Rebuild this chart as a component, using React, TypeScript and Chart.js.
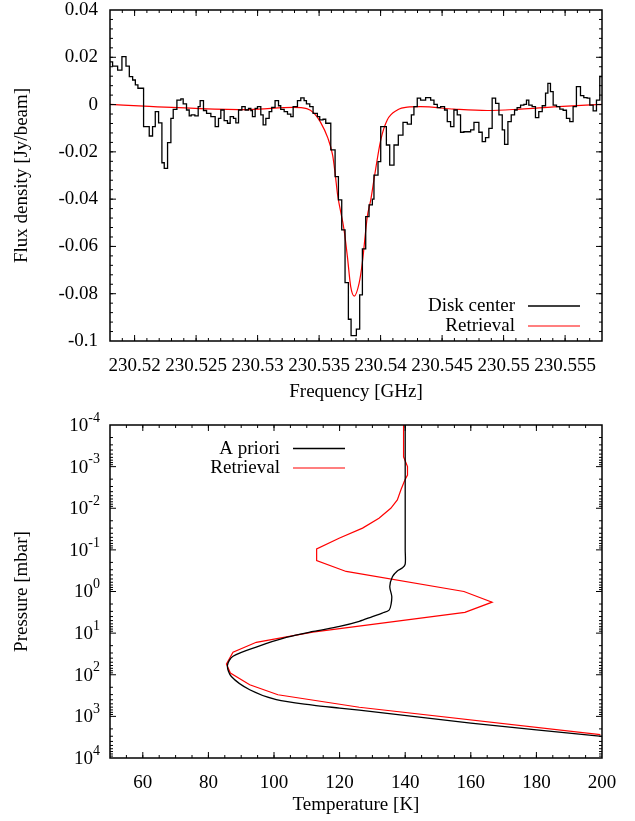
import React, { useEffect, useRef } from 'react';
import { Chart, registerables } from 'chart.js';
Chart.register(...registerables);

const FAM = '"Liberation Serif", "Times New Roman", serif';
const FONT = { family: FAM, size: 19 };

// ---------- Top panel: spectrum ----------
// left edge of each spectral step [GHz]
const diskEdges = [
  230.51800, 230.51821, 230.51862, 230.51897, 230.51930, 230.51957, 230.51984, 230.52006, 230.52027, 230.52073,
  230.52119, 230.52146, 230.52168, 230.52195, 230.52222, 230.52241, 230.52268, 230.52295, 230.52314, 230.52344,
  230.52376, 230.52395, 230.52422, 230.52444, 230.52460, 230.52490, 230.52517, 230.52533, 230.52560, 230.52585,
  230.52620, 230.52655, 230.52682, 230.52701, 230.52728, 230.52755, 230.52777, 230.52804, 230.52823, 230.52845,
  230.52872, 230.52899, 230.52926, 230.52945, 230.52958, 230.52980, 230.52999, 230.53026, 230.53045, 230.53067,
  230.53094, 230.53115, 230.53142, 230.53170, 230.53188, 230.53216, 230.53243, 230.53270, 230.53289, 230.53324,
  230.53351, 230.53378, 230.53397, 230.53424, 230.53451, 230.53486, 230.53505, 230.53532, 230.53554, 230.53595,
  230.53630, 230.53657, 230.53684, 230.53711, 230.53738, 230.53760, 230.53803, 230.53830, 230.53852, 230.53879,
  230.53906, 230.53933, 230.53946, 230.53979, 230.54001, 230.54047, 230.54074, 230.54109, 230.54144, 230.54182,
  230.54217, 230.54250, 230.54271, 230.54298, 230.54325, 230.54366, 230.54407, 230.54434, 230.54461, 230.54488,
  230.54520, 230.54542, 230.54569, 230.54596, 230.54623, 230.54650, 230.54677, 230.54732, 230.54759, 230.54799,
  230.54826, 230.54853, 230.54880, 230.54907, 230.54935, 230.54962, 230.54989, 230.55008, 230.55035, 230.55062,
  230.55089, 230.55110, 230.55138, 230.55165, 230.55186, 230.55205, 230.55232, 230.55259, 230.55286, 230.55314,
  230.55341, 230.55360, 230.55381, 230.55403, 230.55430, 230.55457, 230.55484, 230.55511, 230.55538, 230.55565,
  230.55592, 230.55625, 230.55652, 230.55679, 230.55701, 230.55728, 230.55755, 230.55782,
];
// flux density of each step [Jy/beam]
const diskFlux = [
  0.0181, 0.0163, 0.0146, 0.0203, 0.0163, 0.0118, 0.0104, 0.0083, 0.0069, -0.0093,
  -0.0133, -0.0093, -0.0030, -0.0077, -0.0246, -0.0270, -0.0161, -0.0058, -0.0020, 0.0019,
  0.0024, 0.0003, -0.0023, -0.0048, -0.0044, -0.0048, -0.0009, 0.0017, -0.0025, -0.0037,
  -0.0051, -0.0093, -0.0058, -0.0023, -0.0068, -0.0079, -0.0051, -0.0058, -0.0077, -0.0023,
  -0.0009, -0.0023, -0.0016, -0.0025, -0.0051, -0.0016, -0.0009, -0.0044, -0.0086, -0.0058,
  -0.0030, -0.0012, 0.0017, -0.0005, -0.0020, -0.0030, -0.0040, -0.0051, -0.0009, 0.0017,
  0.0028, 0.0017, 0.0003, -0.0009, -0.0037, -0.0051, -0.0065, -0.0062, -0.0079, -0.0192,
  -0.0305, -0.0403, -0.0530, -0.0753, -0.0908, -0.0977, -0.0950, -0.0805, -0.0610, -0.0474,
  -0.0424, -0.0400, -0.0298, -0.0241, -0.0093, -0.0171, -0.0256, -0.0171, -0.0129, -0.0075,
  -0.0083, -0.0044, -0.0009, 0.0027, 0.0019, 0.0029, 0.0019, 0.0001, -0.0013, -0.0009,
  -0.0023, -0.0072, -0.0093, -0.0023, -0.0044, -0.0117, -0.0115, -0.0107, -0.0075, -0.0117,
  -0.0157, -0.0140, -0.0101, 0.0027, 0.0005, -0.0044, -0.0107, -0.0168, -0.0072, -0.0044,
  -0.0023, -0.0013, -0.0002, 0.0001, 0.0019, -0.0002, -0.0009, -0.0055, -0.0030, -0.0005,
  0.0048, 0.0090, 0.0055, -0.0002, -0.0009, -0.0019, -0.0024, -0.0058, -0.0072, -0.0009,
  0.0076, 0.0038, 0.0029, 0.0027, -0.0002, -0.0027, 0.0019, 0.0118,
];
const DISK_END = 230.558;

const fitFreq = [
  230.5180, 230.5212, 230.5253, 230.5293, 230.5329, 230.5340, 230.5346, 230.5351, 230.5357, 230.5361,
  230.5363, 230.5365, 230.53703, 230.5373, 230.53757, 230.53786, 230.53825, 230.53851, 230.53892, 230.5392,
  230.53952, 230.54001, 230.54054, 230.54136, 230.54217, 230.54326, 230.54596, 230.54866, 230.55138, 230.55408,
  230.5580,
];
const fitFlux = [
  0.0001, -0.0008, -0.0017, -0.0021, -0.0012, -0.0017, -0.0037, -0.0073, -0.0140, -0.0214,
  -0.0290, -0.0380, -0.0530, -0.0643, -0.0770, -0.0810, -0.0756, -0.0671, -0.0474, -0.0403,
  -0.0298, -0.0150, -0.0065, -0.0023, -0.0011, -0.0009, -0.0019, -0.0025, -0.0019, -0.0010,
  0.0001,
];

const freqTicks = [230.52, 230.525, 230.53, 230.535, 230.54, 230.545, 230.55, 230.555];
const freqTickLabels = ['230.52', '230.525', '230.53', '230.535', '230.54', '230.545', '230.55', '230.555'];
const fluxTicks = [-0.1, -0.08, -0.06, -0.04, -0.02, 0, 0.02, 0.04];
const fluxTickLabels = ['-0.1', '-0.08', '-0.06', '-0.04', '-0.02', '0', '0.02', '0.04'];

// ---------- Bottom panel: temperature profile ----------
const aprioriT = [
  140, 140, 140, 140, 140, 139.2, 137.6, 136.1, 135.3, 135.9,
  135.7, 135.1, 133, 130, 126, 120, 112, 104, 95, 87.5,
  85.8, 87, 92.6, 100.7, 111.8, 120, 126, 160, 200,
];
const aprioriP = [
  1e-4, 1e-3, 0.01, 0.1, 0.22, 0.27, 0.32, 0.44, 0.76, 1.3,
  2.0, 2.8, 3.3, 4.0, 5.2, 6.9, 9.1, 12.5, 21, 36,
  60, 110, 229, 398, 537, 631, 708, 1445, 3020,
];
const retrT = [
  139.5, 139.5, 140.7, 140.7, 139.9, 138.7, 137.6, 135.6, 132, 127,
  120, 113, 113, 122, 157.9, 166.5, 158.2, 111.8, 94.6, 87.5,
  85.5, 86.7, 92.6, 101.2, 126, 199.5,
];
const retrP = [
  1e-4, 5.8e-4, 1.0e-3, 1.6e-3, 2.1e-3, 3.6e-3, 6.3e-3, 0.010, 0.0174, 0.030,
  0.052, 0.095, 0.18, 0.33, 1.0, 1.8, 3.16, 9.5, 16.6, 28.8,
  55, 91, 174, 302, 603, 2750,
];

const tempTicks = [60, 80, 100, 120, 140, 160, 180, 200];
const tempTickLabels = ['60', '80', '100', '120', '140', '160', '180', '200'];
const presTicks = [1e-4, 1e-3, 1e-2, 1e-1, 1, 10, 100, 1000, 10000];
const presExponents = ['-4', '-3', '-2', '-1', '0', '1', '2', '3', '4'];

type Decor = {
  xMajor: number[]; xMinor: number[]; yMajor: number[]; yMinor: number[];
  legend: { label: string; color: string; width: number }[];
  legendTextRight: number; legendLineStart: number; legendLineEnd: number; legendTop: number; legendGap: number;
  logLabels?: { value: number; exp: string }[];
};

function makeDecor(o: Decor) {
  return {
    id: 'decor',
    afterDatasetsDraw(chart: any) {
      const { ctx, chartArea: a, scales } = chart;
      const xs = scales.x, ys = scales.y;
      ctx.save();
      ctx.strokeStyle = '#000';
      ctx.lineWidth = 1;
      ctx.beginPath();
      const tx = (v: number, len: number) => {
        const p = xs.getPixelForValue(v);
        if (p < a.left + 0.5 || p > a.right - 0.5) return;
        ctx.moveTo(p, a.bottom); ctx.lineTo(p, a.bottom - len);
        ctx.moveTo(p, a.top); ctx.lineTo(p, a.top + len);
      };
      const ty = (v: number, len: number) => {
        const p = ys.getPixelForValue(v);
        if (p < a.top + 0.5 || p > a.bottom - 0.5) return;
        ctx.moveTo(a.left, p); ctx.lineTo(a.left + len, p);
        ctx.moveTo(a.right, p); ctx.lineTo(a.right - len, p);
      };
      o.xMajor.forEach((v) => tx(v, 6));
      o.xMinor.forEach((v) => tx(v, 3));
      o.yMajor.forEach((v) => ty(v, 6));
      o.yMinor.forEach((v) => ty(v, 3));
      ctx.stroke();
      ctx.lineWidth = 1.5;
      ctx.strokeRect(a.left, a.top, a.right - a.left, a.bottom - a.top);

      ctx.fillStyle = '#000';
      ctx.textAlign = 'right';
      ctx.textBaseline = 'middle';
      o.legend.forEach((it, i) => {
        const y = a.top + o.legendTop + i * o.legendGap;
        ctx.font = `19px ${FAM}`;
        ctx.fillText(it.label, a.left + o.legendTextRight, y);
        ctx.strokeStyle = it.color;
        ctx.lineWidth = it.width;
        ctx.beginPath();
        ctx.moveTo(a.left + o.legendLineStart, y - 0.5);
        ctx.lineTo(a.left + o.legendLineEnd, y - 0.5);
        ctx.stroke();
      });

      if (o.logLabels) {
        const right = a.left - 10;
        o.logLabels.forEach((l) => {
          const y = ys.getPixelForValue(l.value);
          ctx.font = `14px ${FAM}`;
          const ew = ctx.measureText(l.exp).width;
          ctx.textAlign = 'right';
          ctx.textBaseline = 'middle';
          ctx.fillText(l.exp, right, y - 7);
          ctx.font = `19px ${FAM}`;
          ctx.fillText('10', right - ew, y + 1);
        });
      }
      ctx.restore();
    },
  };
}

function range(start: number, stop: number, step: number) {
  const out: number[] = [];
  for (let v = start; v <= stop + step * 1e-6; v += step) out.push(+v.toFixed(6));
  return out;
}

function logMinor(minExp: number, maxExp: number) {
  const out: number[] = [];
  for (let e = minExp; e < maxExp; e++) for (let m = 2; m <= 9; m++) out.push(m * Math.pow(10, e));
  return out;
}

const fitY = (w: number) => (s: any) => { s.width = w; s.paddingTop = 0; s.paddingBottom = 0; };
const fitX = (h: number) => (s: any) => { s.height = h; s.paddingLeft = 0; s.paddingRight = 0; };

function SpectrumChart() {
  const ref = useRef<HTMLCanvasElement>(null);
  useEffect(() => {
    const disk = diskEdges.map((f, i) => ({ x: f, y: diskFlux[i] }));
    disk.push({ x: DISK_END, y: diskFlux[diskFlux.length - 1] });
    const fit = fitFreq.map((f, i) => ({ x: f, y: fitFlux[i] }));
    const decor = makeDecor({
      xMajor: freqTicks,
      xMinor: range(230.518, 230.558, 0.001),
      yMajor: fluxTicks,
      yMinor: range(-0.1, 0.04, 0.004),
      legend: [
        { label: 'Disk center', color: '#000', width: 1.3 },
        { label: 'Retrieval', color: '#ff0000', width: 1.2 },
      ],
      legendTextRight: 405, legendLineStart: 418, legendLineEnd: 470, legendTop: 296.5, legendGap: 20,
    });
    const chart = new Chart(ref.current!, {
      type: 'scatter',
      data: {
        datasets: [
          { data: disk, showLine: true, stepped: true, borderColor: '#000', borderWidth: 1.3, pointRadius: 0 } as any,
          { data: fit, showLine: true, cubicInterpolationMode: 'monotone', borderColor: '#ff0000', borderWidth: 1.2, pointRadius: 0 } as any,
        ],
      },
      options: {
        animation: false,
        responsive: false,
        layout: { padding: { left: 0, right: 33, top: 10, bottom: 0 } },
        plugins: { legend: { display: false }, tooltip: { enabled: false } },
        scales: {
          x: {
            type: 'linear', min: 230.518, max: 230.558,
            grid: { display: false, drawTicks: false }, border: { display: false },
            afterBuildTicks: (s: any) => { s.ticks = freqTicks.map((v) => ({ value: v })); },
            ticks: { callback: (_v: any, i: number) => freqTickLabels[i], font: FONT, color: '#000', padding: 14, maxRotation: 0, autoSkip: false },
            title: { display: true, text: 'Frequency [GHz]', font: FONT, color: '#000', padding: { top: 0, bottom: 7 } },
            afterFit: fitX(69),
          },
          y: {
            type: 'linear', min: -0.1, max: 0.04,
            grid: { display: false, drawTicks: false }, border: { display: false },
            afterBuildTicks: (s: any) => { s.ticks = fluxTicks.map((v) => ({ value: v })); },
            ticks: { callback: (_v: any, i: number) => fluxTickLabels[i], font: FONT, color: '#000', padding: 12, autoSkip: false },
            title: { display: true, text: 'Flux density [Jy/beam]', font: FONT, color: '#000', padding: { top: 11, bottom: 0 } },
            afterFit: fitY(110),
          },
        },
      } as any,
      plugins: [decor],
    });
    return () => chart.destroy();
  }, []);
  return <canvas ref={ref} width={635} height={410} />;
}

function ProfileChart() {
  const ref = useRef<HTMLCanvasElement>(null);
  useEffect(() => {
    const apr = aprioriT.map((t, i) => ({ x: t, y: aprioriP[i] }));
    const ret = retrT.map((t, i) => ({ x: t, y: retrP[i] }));
    const decor = makeDecor({
      xMajor: tempTicks,
      xMinor: range(50, 200, 5),
      yMajor: presTicks,
      yMinor: logMinor(-4, 4),
      legend: [
        { label: 'A priori', color: '#000', width: 1.3 },
        { label: 'Retrieval', color: '#ff0000', width: 1.2 },
      ],
      legendTextRight: 170, legendLineStart: 183, legendLineEnd: 235, legendTop: 24, legendGap: 19.5,
      logLabels: presTicks.map((v, i) => ({ value: v, exp: presExponents[i] })),
    });
    const chart = new Chart(ref.current!, {
      type: 'scatter',
      data: {
        datasets: [
          { data: apr, showLine: true, tension: 0.3, borderColor: '#000', borderWidth: 1.3, pointRadius: 0 } as any,
          { data: ret, showLine: true, tension: 0, borderColor: '#ff0000', borderWidth: 1.2, pointRadius: 0 } as any,
        ],
      },
      options: {
        animation: false,
        responsive: false,
        layout: { padding: { left: 0, right: 33, top: 15, bottom: 0 } },
        plugins: { legend: { display: false }, tooltip: { enabled: false } },
        scales: {
          x: {
            type: 'linear', min: 50, max: 200,
            grid: { display: false, drawTicks: false }, border: { display: false },
            afterBuildTicks: (s: any) => { s.ticks = tempTicks.map((v) => ({ value: v })); },
            ticks: { callback: (_v: any, i: number) => tempTickLabels[i], font: FONT, color: '#000', padding: 14, maxRotation: 0, autoSkip: false },
            title: { display: true, text: 'Temperature [K]', font: FONT, color: '#000', padding: { top: 0, bottom: 5 } },
            afterFit: fitX(63),
          },
          y: {
            type: 'logarithmic', min: 1e-4, max: 1e4, reverse: true,
            grid: { display: false, drawTicks: false }, border: { display: false },
            afterBuildTicks: (s: any) => { s.ticks = presTicks.map((v) => ({ value: v })); },
            ticks: { display: false },
            title: { display: true, text: 'Pressure [mbar]', font: FONT, color: '#000', padding: { top: 11, bottom: 0 } },
            afterFit: fitY(110),
          },
        },
      } as any,
      plugins: [decor],
    });
    return () => chart.destroy();
  }, []);
  return <canvas ref={ref} width={635} height={411} />;
}

export default function App() {
  return (
    <div style={{ position: 'absolute', left: 0, top: 0, width: 635, height: 821, background: '#fff' }}>
      <div style={{ position: 'absolute', left: 0, top: 0, width: 635, height: 410 }}>
        <SpectrumChart />
      </div>
      <div style={{ position: 'absolute', left: 0, top: 410, width: 635, height: 411 }}>
        <ProfileChart />
      </div>
    </div>
  );
}
